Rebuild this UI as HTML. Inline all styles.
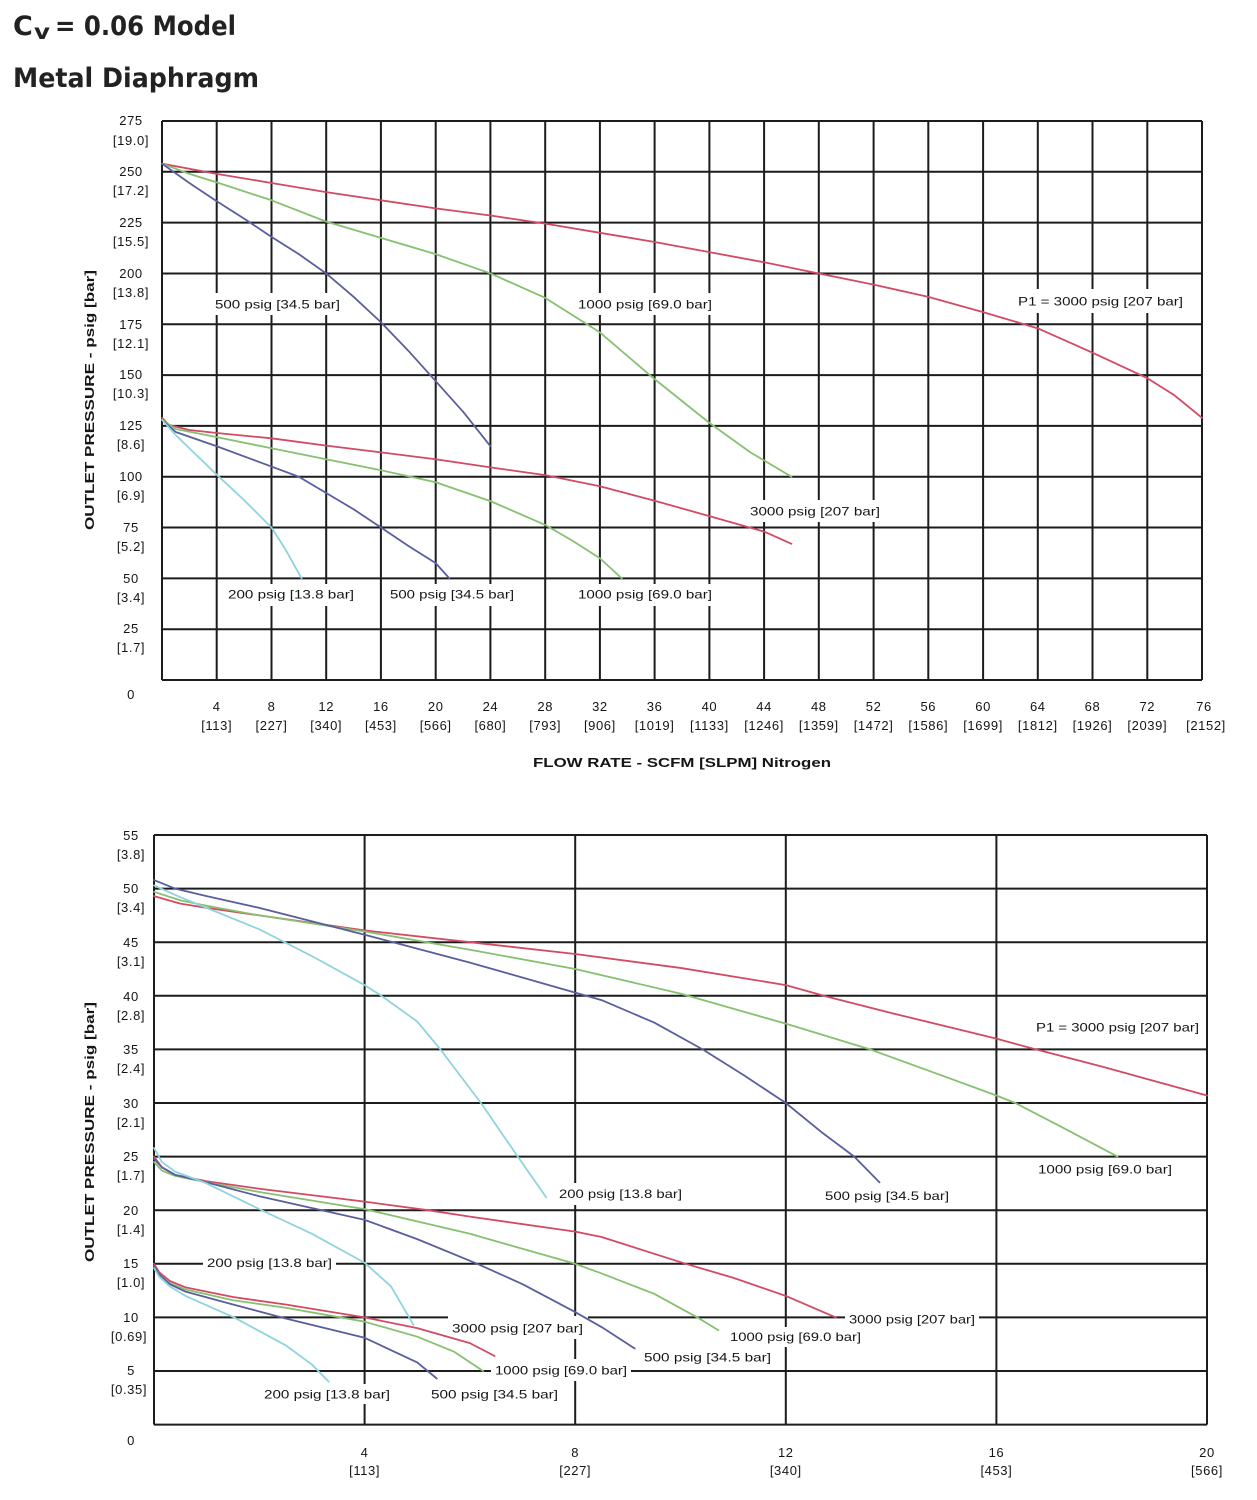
<!DOCTYPE html>
<html>
<head>
<meta charset="utf-8">
<style>
html,body{margin:0;padding:0;background:#fff;}
svg{display:block;}
.t{font-family:"Liberation Sans",Arial,sans-serif;fill:#151515;}
.tk{font-family:"Liberation Sans",Arial,sans-serif;font-size:13px;fill:#151515;text-anchor:middle;letter-spacing:0.6px;}
.lb{font-family:"Liberation Sans",Arial,sans-serif;font-size:12px;fill:#151515;}
.grid{stroke:#1c1c1c;stroke-width:2;fill:none;}
.c{fill:none;stroke-width:1.8;stroke-linejoin:round;stroke-linecap:round;vector-effect:non-scaling-stroke;}
.r{stroke:#d24a63;}
.g{stroke:#86c070;}
.b{stroke:#5a5e9c;}
.cy{stroke:#8fd3de;}
</style>
</head>
<body>
<svg width="1257" height="1500" viewBox="0 0 1257 1500" xmlns="http://www.w3.org/2000/svg">
<rect width="1257" height="1500" fill="#fff"/>

<!-- Title -->
<text x="13" y="35" font-family="DejaVu Sans, Liberation Sans, sans-serif" font-weight="bold" font-size="27" fill="#222">C</text>
<text x="34" y="39" font-family="DejaVu Sans, Liberation Sans, sans-serif" font-weight="bold" font-size="21" fill="#222" textLength="16" lengthAdjust="spacingAndGlyphs">v</text>
<text x="55" y="35" font-family="DejaVu Sans, Liberation Sans, sans-serif" font-weight="bold" font-size="27" fill="#222" textLength="181" lengthAdjust="spacingAndGlyphs">= 0.06 Model</text>
<text x="13" y="87" font-family="DejaVu Sans, Liberation Sans, sans-serif" font-weight="bold" font-size="27" fill="#222" textLength="246" lengthAdjust="spacingAndGlyphs">Metal Diaphragm</text>

<!-- ================= TOP CHART ================= -->
<path class="grid" d="M162 121V680M216.7 121V680M271.5 121V680M326.2 121V680M380.9 121V680M435.7 121V680M490.4 121V680M545.2 121V680M599.9 121V680M654.6 121V680M709.4 121V680M764.1 121V680M818.8 121V680M873.6 121V680M928.3 121V680M983.1 121V680M1037.8 121V680M1092.5 121V680M1147.3 121V680M1202 121V680
M162 121H1202M162 171.8H1202M162 222.6H1202M162 273.5H1202M162 324.3H1202M162 375.1H1202M162 425.9H1202M162 476.7H1202M162 527.5H1202M162 578.4H1202M162 629.2H1202M162 680H1202"/>

<!-- label backgrounds top -->
<g fill="#fff">
<rect x="211" y="293" width="133" height="22"/>
<rect x="574" y="293" width="142" height="22"/>
<rect x="1014" y="289" width="173" height="24"/>
<rect x="746" y="500" width="138" height="22"/>
<rect x="224" y="584" width="134" height="22"/>
<rect x="386" y="584" width="132" height="22"/>
<rect x="574" y="584" width="142" height="22"/>
</g>

<!-- top curves -->
<g transform="translate(162,680) scale(13.684,-2.0327)">
<polyline class="c r" points="0,254 4,249 8,244.5 12,240 16,236 20,232 24,228.5 28,224.5 32,220 36,215.5 40,210.5 44,205.5 48,200 52,194.5 56,188.5 60,181 64,173 68,161 72,148.5 74,140 76,129"/>
<polyline class="c g" points="0,254 2,249 4,244.8 8,236 12,225.5 16,217.5 20,209.5 24,200 28,188 32,171 36,148 40,126.5 43,112 46,100"/>
<polyline class="c b" points="0,254 2,244.5 4,235.5 6,227 8,218 10,209.5 12,200 14,188.5 16,176 18,162 20,147 22,132 24,115"/>
<polyline class="c r" points="0,129 0.5,125.5 2,123 4,121.5 8,118.9 12,115.3 16,112 20,108.6 24,104.6 28,100.8 32,95.3 36,88.2 40,80.6 44,73 46,67"/>
<polyline class="c g" points="0,128 1,123.5 4,119.5 8,114 12,108.6 16,103.2 20,97.3 24,88 28,76.3 30,68.5 32,59.9 33.6,50"/>
<polyline class="c b" points="0,128 1,122 4,115 8,105 10,100 12,92 14,84 16,75 18,66 20,57.5 21,50"/>
<polyline class="c cy" points="0,128 1,120.5 2,114 4,101 6,88.5 8,75 9,64.5 10.2,50"/>
</g>

<!-- top curve labels -->
<text class="lb" x="215" y="308.5" textLength="125" lengthAdjust="spacingAndGlyphs">500 psig [34.5 bar]</text>
<text class="lb" x="578" y="308.5" textLength="134" lengthAdjust="spacingAndGlyphs">1000 psig [69.0 bar]</text>
<text class="lb" x="1018" y="305.5" textLength="165" lengthAdjust="spacingAndGlyphs">P1 = 3000 psig [207 bar]</text>
<text class="lb" x="750" y="515.5" textLength="130" lengthAdjust="spacingAndGlyphs">3000 psig [207 bar]</text>
<text class="lb" x="228" y="598.5" textLength="126" lengthAdjust="spacingAndGlyphs">200 psig [13.8 bar]</text>
<text class="lb" x="390" y="598.5" textLength="124" lengthAdjust="spacingAndGlyphs">500 psig [34.5 bar]</text>
<text class="lb" x="578" y="598.5" textLength="134" lengthAdjust="spacingAndGlyphs">1000 psig [69.0 bar]</text>

<!-- top y tick labels -->
<g class="tk">
<text x="131" y="125">275</text><text x="131" y="145">[19.0]</text>
<text x="131" y="176">250</text><text x="131" y="195">[17.2]</text>
<text x="131" y="227">225</text><text x="131" y="246">[15.5]</text>
<text x="131" y="278">200</text><text x="131" y="297">[13.8]</text>
<text x="131" y="329">175</text><text x="131" y="348">[12.1]</text>
<text x="131" y="379">150</text><text x="131" y="398">[10.3]</text>
<text x="131" y="430">125</text><text x="131" y="449">[8.6]</text>
<text x="131" y="481">100</text><text x="131" y="500">[6.9]</text>
<text x="131" y="532">75</text><text x="131" y="551">[5.2]</text>
<text x="131" y="583">50</text><text x="131" y="602">[3.4]</text>
<text x="131" y="633">25</text><text x="131" y="652">[1.7]</text>
<text x="131" y="699">0</text>
</g>

<!-- top x tick labels -->
<g class="tk">
<text x="216.7" y="711">4</text><text x="216.7" y="730">[113]</text>
<text x="271.5" y="711">8</text><text x="271.5" y="730">[227]</text>
<text x="326.2" y="711">12</text><text x="326.2" y="730">[340]</text>
<text x="380.9" y="711">16</text><text x="380.9" y="730">[453]</text>
<text x="435.7" y="711">20</text><text x="435.7" y="730">[566]</text>
<text x="490.4" y="711">24</text><text x="490.4" y="730">[680]</text>
<text x="545.2" y="711">28</text><text x="545.2" y="730">[793]</text>
<text x="599.9" y="711">32</text><text x="599.9" y="730">[906]</text>
<text x="654.6" y="711">36</text><text x="654.6" y="730">[1019]</text>
<text x="709.4" y="711">40</text><text x="709.4" y="730">[1133]</text>
<text x="764.1" y="711">44</text><text x="764.1" y="730">[1246]</text>
<text x="818.8" y="711">48</text><text x="818.8" y="730">[1359]</text>
<text x="873.6" y="711">52</text><text x="873.6" y="730">[1472]</text>
<text x="928.3" y="711">56</text><text x="928.3" y="730">[1586]</text>
<text x="983.1" y="711">60</text><text x="983.1" y="730">[1699]</text>
<text x="1037.8" y="711">64</text><text x="1037.8" y="730">[1812]</text>
<text x="1092.5" y="711">68</text><text x="1092.5" y="730">[1926]</text>
<text x="1147.3" y="711">72</text><text x="1147.3" y="730">[2039]</text>
<text x="1204" y="711">76</text><text x="1206" y="730">[2152]</text>
</g>

<!-- top axis titles -->
<text class="t" x="533" y="767" font-size="13" font-weight="bold" textLength="298" lengthAdjust="spacingAndGlyphs">FLOW RATE - SCFM [SLPM] Nitrogen</text>
<text class="t" transform="translate(94,530) rotate(-90)" x="0" y="0" font-size="13" font-weight="bold" textLength="260" lengthAdjust="spacingAndGlyphs">OUTLET PRESSURE - psig [bar]</text>

<!-- ================= BOTTOM CHART ================= -->
<path class="grid" d="M154 835V1424.6M364.6 835V1424.6M575.2 835V1424.6M785.8 835V1424.6M996.4 835V1424.6M1207 835V1424.6
M154 835H1207M154 888.6H1207M154 942.2H1207M154 995.8H1207M154 1049.4H1207M154 1103H1207M154 1156.6H1207M154 1210.2H1207M154 1263.8H1207M154 1317.4H1207M154 1371H1207M154 1424.6H1207"/>

<!-- label backgrounds bottom -->
<g fill="#fff">
<rect x="1031" y="1016" width="172" height="22"/>
<rect x="1034" y="1158" width="142" height="22"/>
<rect x="821" y="1185" width="132" height="22"/>
<rect x="555" y="1183" width="131" height="22"/>
<rect x="203" y="1252" width="133" height="22"/>
<rect x="448" y="1316" width="140" height="23"/>
<rect x="845" y="1308" width="134" height="22"/>
<rect x="726" y="1327" width="139" height="20"/>
<rect x="640" y="1347" width="135" height="20"/>
<rect x="491" y="1359" width="140" height="22"/>
<rect x="260" y="1384" width="134" height="20"/>
<rect x="427" y="1384" width="135" height="20"/>
</g>

<!-- bottom curves -->
<g transform="translate(154,1424.6) scale(52.65,-10.72)">
<polyline class="c r" points="0,49.3 0.5,48.6 1,48.2 2,47.5 4,46.1 6,45 8,43.9 10,42.6 12,41 12.8,39.9 14,38.4 16,36 16.75,35 18,33.4 20,30.7"/>
<polyline class="c g" points="0,49.7 0.5,48.9 1,48.4 2,47.5 4,46 6,44.3 8,42.5 10,40.2 12,37.4 13.6,35 15,32.5 16,30.7 16.36,30 17.3,27.6 18.3,25"/>
<polyline class="c b" points="0,50.8 0.4,50 1,49.3 2,48.2 4,45.7 6,43.1 8,40.3 8.5,39.6 9.5,37.5 10.42,35 11.2,32.6 12,30 12.7,27.2 13.3,25 13.78,22.6"/>
<polyline class="c cy" points="0,50.3 0.5,49.2 1,48.2 2,46.2 2.48,45 3,43.7 4,41 4.32,40 5,37.6 5.44,35 6.21,30 6.91,25 7.45,21.2"/>

<polyline class="c r" points="0,25 0.15,24 0.4,23.3 1,22.7 2,22 4,20.8 5.2,20 6,19.4 8,18 8.5,17.5 10.1,15 11,13.7 12,12 12.95,10"/>
<polyline class="c g" points="0,24.5 0.15,23.7 0.4,23.2 1,22.6 2,21.7 4,20.1 6,17.8 8,15 8.5,14.1 9.5,12.2 10.32,10 10.72,8.8"/>
<polyline class="c b" points="0,24.8 0.15,24 0.4,23.3 1,22.6 2,21.3 4,19.1 5,17.3 6.14,15 7,13.1 8,10.5 8.5,9.1 9.13,7.1"/>
<polyline class="c cy" points="0,25.8 0.15,24.5 0.4,23.6 1,22.5 2,20.1 3,17.8 4,15.1 4.5,12.9 4.93,9.3"/>

<polyline class="c r" points="0,15 0.1,14.2 0.3,13.4 0.6,12.8 1.5,11.9 2.5,11.2 4,10 5,9 6,7.6 6.47,6.4"/>
<polyline class="c g" points="0,14.8 0.1,14 0.3,13.2 0.6,12.6 1.5,11.6 2.5,10.9 4,9.6 5,8.2 5.7,6.8 6.25,5"/>
<polyline class="c b" points="0,14.8 0.1,14 0.3,13.1 0.6,12.4 1.5,11.2 2.5,9.9 4,8.1 5,5.8 5.37,4.3"/>
<polyline class="c cy" points="0,14.6 0.1,13.8 0.3,12.9 0.6,12 1.52,10 2.5,7.4 3,5.6 3.32,4"/>
</g>

<!-- bottom curve labels -->
<text class="lb" x="1036" y="1031.5" textLength="163" lengthAdjust="spacingAndGlyphs">P1 = 3000 psig [207 bar]</text>
<text class="lb" x="1038" y="1173.5" textLength="134" lengthAdjust="spacingAndGlyphs">1000 psig [69.0 bar]</text>
<text class="lb" x="825" y="1200" textLength="124" lengthAdjust="spacingAndGlyphs">500 psig [34.5 bar]</text>
<text class="lb" x="559" y="1198" textLength="123" lengthAdjust="spacingAndGlyphs">200 psig [13.8 bar]</text>
<text class="lb" x="207" y="1267" textLength="125" lengthAdjust="spacingAndGlyphs">200 psig [13.8 bar]</text>
<text class="lb" x="452" y="1332.5" textLength="131" lengthAdjust="spacingAndGlyphs">3000 psig [207 bar]</text>
<text class="lb" x="849" y="1323.5" textLength="126" lengthAdjust="spacingAndGlyphs">3000 psig [207 bar]</text>
<text class="lb" x="730" y="1341" textLength="131" lengthAdjust="spacingAndGlyphs">1000 psig [69.0 bar]</text>
<text class="lb" x="644" y="1361.5" textLength="127" lengthAdjust="spacingAndGlyphs">500 psig [34.5 bar]</text>
<text class="lb" x="495" y="1374.5" textLength="132" lengthAdjust="spacingAndGlyphs">1000 psig [69.0 bar]</text>
<text class="lb" x="264" y="1398.5" textLength="126" lengthAdjust="spacingAndGlyphs">200 psig [13.8 bar]</text>
<text class="lb" x="431" y="1398.5" textLength="127" lengthAdjust="spacingAndGlyphs">500 psig [34.5 bar]</text>

<!-- bottom y tick labels -->
<g class="tk">
<text x="131" y="840">55</text><text x="131" y="859">[3.8]</text>
<text x="131" y="893">50</text><text x="131" y="912">[3.4]</text>
<text x="131" y="947">45</text><text x="131" y="966">[3.1]</text>
<text x="131" y="1001">40</text><text x="131" y="1020">[2.8]</text>
<text x="131" y="1054">35</text><text x="131" y="1073">[2.4]</text>
<text x="131" y="1108">30</text><text x="131" y="1127">[2.1]</text>
<text x="131" y="1161">25</text><text x="131" y="1180">[1.7]</text>
<text x="131" y="1215">20</text><text x="131" y="1234">[1.4]</text>
<text x="131" y="1268">15</text><text x="131" y="1287">[1.0]</text>
<text x="131" y="1322">10</text><text x="129" y="1341">[0.69]</text>
<text x="131" y="1375">5</text><text x="129" y="1394">[0.35]</text>
<text x="131" y="1445">0</text>
</g>

<!-- bottom x tick labels -->
<g class="tk">
<text x="364.6" y="1457">4</text><text x="364.6" y="1475">[113]</text>
<text x="575.2" y="1457">8</text><text x="575.2" y="1475">[227]</text>
<text x="785.8" y="1457">12</text><text x="785.8" y="1475">[340]</text>
<text x="996.4" y="1457">16</text><text x="996.4" y="1475">[453]</text>
<text x="1207" y="1457">20</text><text x="1207" y="1475">[566]</text>
</g>

<text class="t" transform="translate(94,1262) rotate(-90)" x="0" y="0" font-size="13" font-weight="bold" textLength="260" lengthAdjust="spacingAndGlyphs">OUTLET PRESSURE - psig [bar]</text>
</svg>
</body>
</html>
